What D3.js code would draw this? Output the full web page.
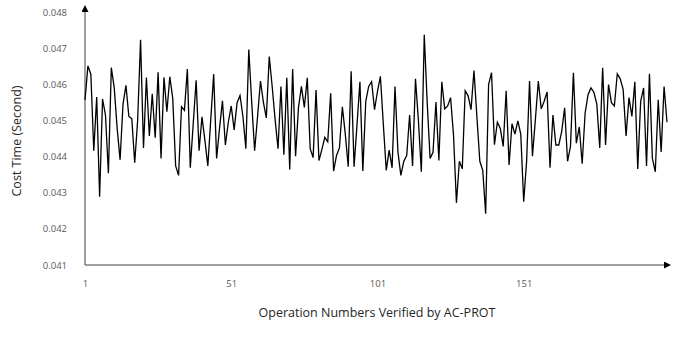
<!DOCTYPE html>
<html><head><meta charset="utf-8">
<script src="https://cdn.jsdelivr.net/npm/d3@7"></script>
<style>
body{margin:0;background:#fff;}
svg{display:block;}
.tick text{font-family:"Open Sans",Lato,sans-serif;}
</style></head>
<body><svg id="c" width="684" height="345"></svg>
<script>
const costTime = [
0.04557,0.04651,0.04628,0.04416,0.04565,0.04289,0.04559,0.04515,0.04354,0.04646,
0.04590,0.04478,0.04391,0.04545,0.04597,0.04511,0.04505,0.04383,0.04500,0.04723,
0.04424,0.04619,0.04457,0.04574,0.04452,0.04633,0.04395,0.04619,0.04524,0.04621,
0.04561,0.04374,0.04348,0.04538,0.04528,0.04642,0.04369,0.04490,0.04611,0.04416,
0.04510,0.04445,0.04374,0.04503,0.04628,0.04395,0.04478,0.04554,0.04432,0.04495,
0.04540,0.04474,0.04549,0.04569,0.04511,0.04422,0.04696,0.04550,0.04416,0.04510,
0.04609,0.04550,0.04507,0.04677,0.04594,0.04503,0.04422,0.04594,0.04405,0.04618,
0.04364,0.04642,0.04401,0.04536,0.04594,0.04536,0.04618,0.04422,0.04397,0.04584,
0.04389,0.04420,0.04453,0.04441,0.04575,0.04360,0.04403,0.04424,0.04538,0.04462,
0.04372,0.04636,0.04372,0.04487,0.04607,0.04360,0.04553,0.04594,0.04607,0.04530,
0.04580,0.04622,0.04490,0.04362,0.04418,0.04369,0.04594,0.04413,0.04348,0.04387,
0.04403,0.04515,0.04374,0.04615,0.04500,0.04358,0.04737,0.04550,0.04395,0.04412,
0.04551,0.04389,0.04607,0.04532,0.04540,0.04563,0.04460,0.04272,0.04387,0.04366,
0.04582,0.04568,0.04530,0.04638,0.04510,0.04387,0.04362,0.04242,0.04599,0.04632,
0.04433,0.04495,0.04478,0.04428,0.04582,0.04377,0.04491,0.04462,0.04499,0.04462,
0.04275,0.04387,0.04609,0.04401,0.04503,0.04609,0.04532,0.04553,0.04579,0.04369,
0.04515,0.04432,0.04432,0.04470,0.04535,0.04387,0.04428,0.04632,0.04437,0.04482,
0.04380,0.04520,0.04571,0.04590,0.04578,0.04545,0.04424,0.04646,0.04432,0.04599,
0.04549,0.04540,0.04629,0.04615,0.04586,0.04457,0.04563,0.04511,0.04607,0.04366,
0.04553,0.04590,0.04374,0.04629,0.04395,0.04358,0.04557,0.04413,0.04594,0.04495
];
const operations = costTime.map((d,i)=>i+1);
const yTicks = [0.041,0.042,0.043,0.044,0.045,0.046,0.047,0.048];
const xTicks = [1,51,101,151];
const xTitle = "Operation Numbers Verified by AC-PROT";
const yTitle = "Cost Time (Second)";

const svg = d3.select("#c");
const x = d3.scaleLinear().domain([1,200]).range([85,667]);
const y = d3.scaleLinear().domain([0.041,0.048]).range([265,12]);

const defs = svg.append("defs");
defs.append("marker").attr("id","arr").attr("viewBox","0 0 10 10")
  .attr("refX",0).attr("refY",5).attr("markerWidth",7).attr("markerHeight",7)
  .attr("markerUnits","userSpaceOnUse").attr("orient","auto")
  .append("path").attr("d","M0,0L10,5L0,10Z").attr("fill","#000");

// y axis
const gy = svg.append("g").attr("transform","translate(85,0)")
  .call(d3.axisLeft(y).tickValues(yTicks).tickSize(0).tickPadding(18).tickFormat(d3.format(".3f")));
gy.select(".domain").remove();
gy.selectAll(".tick text").attr("fill","#595959").style("font-size","9.5px");

// x axis
const gx = svg.append("g").attr("transform","translate(0,265)")
  .call(d3.axisBottom(x).tickValues(xTicks).tickSize(0).tickPadding(15).tickFormat(d3.format("d")));
gx.select(".domain").remove();
gx.selectAll(".tick text").attr("fill","#595959").style("font-size","9.5px");

// axis lines with arrows
svg.append("line").attr("x1",x(1)).attr("y1",y(0.041)).attr("x2",x(1)).attr("y2",12)
  .attr("stroke","#404040").attr("stroke-width",1).attr("marker-end","url(#arr)");
svg.append("line").attr("x1",x(1)).attr("y1",y(0.041)).attr("x2",664).attr("y2",y(0.041))
  .attr("stroke","#404040").attr("stroke-width",1).attr("marker-end","url(#arr)");

// line
const line = d3.line().x((d,i)=>x(operations[i])).y(d=>y(d));
svg.append("path").datum(costTime).attr("d",line)
  .attr("fill","none").attr("stroke","#000").attr("stroke-width",1.3).attr("stroke-linejoin","miter");

// titles
svg.append("text").attr("x",377).attr("y",317).attr("text-anchor","middle")
  .style("font-family","'Open Sans',Lato,sans-serif").style("font-size","12.5px").attr("fill","#262626").text(xTitle);
svg.append("text").attr("transform","translate(21,141) rotate(-90)").attr("text-anchor","middle")
  .style("font-family","'Open Sans',Lato,sans-serif").style("font-size","12.5px").attr("fill","#262626").text(yTitle);
</script></body></html>
